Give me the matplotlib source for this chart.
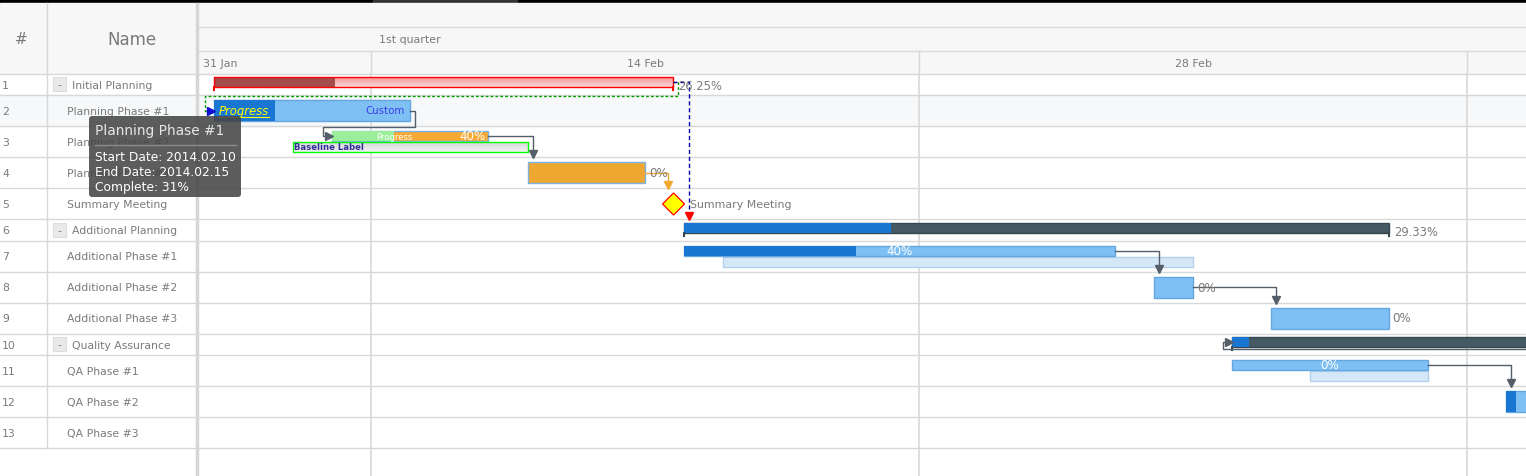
"""
Gantt chart: project planning tasks with progress, baselines and connectors.
"""
import matplotlib.pyplot as plt
import matplotlib.dates as mdates
import numpy as np
import pandas as pd
from matplotlib.patches import Rectangle, FancyBboxPatch, Polygon

# ---- data ----
task_names = ['Initial Planning', 'Planning Phase #1', 'Planning Phase #2', 'Planning Phase #3',
              'Summary Meeting', 'Additional Planning', 'Additional Phase #1', 'Additional Phase #2',
              'Additional Phase #3', 'Quality Assurance', 'QA Phase #1', 'QA Phase #2', 'QA Phase #3']
task_kinds = ['group', 'task', 'task', 'task', 'milestone', 'group', 'task', 'task', 'task',
              'group', 'task', 'task', 'task']
start_dates = ['2014-02-10', '2014-02-10', '2014-02-13', '2014-02-18', '2014-02-21 17:30',
               '2014-02-22', '2014-02-22', '2014-03-06', '2014-03-09', '2014-03-08',
               '2014-03-08', '2014-03-15', None]
end_dates = ['2014-02-21 17:00', '2014-02-15', '2014-02-17', '2014-02-21', None,
             '2014-03-12', '2014-03-05', '2014-03-07', '2014-03-12', '2014-04-05',
             '2014-03-13', '2014-03-20', None]
progress_pct = [26.25, 31, 40, 0, None, 29.33, 40, 0, 0, 1.5, 0, 5, None]
baseline_starts = [None, None, '2014-02-12', None, None, None, '2014-02-23', None, None, None,
                   '2014-03-10', None, None]
baseline_ends = [None, None, '2014-02-18', None, None, None, '2014-03-07', None, None, None,
                 '2014-03-13', None, None]
links = [(0, 1), (0, 5), (1, 2), (2, 3), (3, 4), (6, 7), (7, 8), (10, 11), (11, 9)]
link_styles = ['green', 'blue', 'plain', 'plain', 'orange', 'plain', 'plain', 'plain', 'plain']

period_starts = ['2014-01-31', '2014-02-14', '2014-02-28', '2014-03-14']
period_labels = ['31 Jan', '14 Feb', '28 Feb', '14 Mar']
quarter_label = '1st quarter'

# ---- layout ----
W, H = 1526, 477
PX = 548 / 14  # pixels per day
GRID_W = 198
HEAD_TOP, HEAD_BOT = 4, 74
TEXT = '#7a7a7a'
LINE = '#d8d8d8'
LINK = '#545f69'

fig = plt.figure(figsize=(W / 100, H / 100), dpi=100)
fig.patch.set_facecolor('white')


def px_axes(x0, y0, x1, y1, zorder=0):
    ax = fig.add_axes([x0 / W, 1 - y1 / H, (x1 - x0) / W, (y1 - y0) / H], zorder=zorder)
    ax.set_axis_off()
    return ax


def d(s):
    return mdates.date2num(pd.Timestamp(s))


n = len(task_names)
row_h = np.array([21.5 if k == 'group' else 31 for k in task_kinds])
tops = np.concatenate([[0], np.cumsum(row_h)])
body_h = H - HEAD_BOT

# ---- page: backgrounds, data grid ----
page = px_axes(0, 0, W, H)
page.set_xlim(0, W)
page.set_ylim(H, 0)
page.add_patch(Rectangle((0, 0), W, HEAD_TOP, color='black'))
page.add_patch(Rectangle((373, 0), 144, HEAD_TOP, color='#333333'))
page.add_patch(Rectangle((0, HEAD_TOP), W, HEAD_BOT - HEAD_TOP, color='#f7f7f7'))
# hovered row
page.add_patch(Rectangle((0, HEAD_BOT + tops[1]), W, row_h[1], color='#f6f8fa'))
for yb in HEAD_BOT + tops:
    page.plot([0, W], [yb + 0.5, yb + 0.5], color=LINE, lw=1)
page.plot([GRID_W, W], [27.5, 27.5], color=LINE, lw=1)
page.plot([GRID_W, W], [51.5, 51.5], color=LINE, lw=1)
page.plot([46.5, 46.5], [HEAD_TOP, HEAD_BOT + tops[-1]], color=LINE, lw=1)
page.add_patch(Rectangle((196, HEAD_TOP), 2, H - HEAD_TOP, color='#d6d6d6'))

page.text(21, 40, '#', fontsize=11, color=TEXT, ha='center', va='center')
page.text(132, 40, 'Name', fontsize=12, color=TEXT, ha='center', va='center')
for i in range(n):
    yc = HEAD_BOT + tops[i] + row_h[i] / 2 + 1
    page.text(2, yc, str(i + 1), fontsize=7.8, color=TEXT, ha='left', va='center')
    if task_kinds[i] == 'group':
        page.add_patch(Rectangle((53, yc - 7.5), 13, 14, fc='#e9e9e9', ec='#dddddd', lw=0.8))
        page.text(59.5, yc - 0.5, '-', fontsize=7.8, color=TEXT, ha='center', va='center')
        page.text(72, yc, task_names[i], fontsize=7.8, color=TEXT, ha='left', va='center')
    else:
        page.text(67, yc, task_names[i], fontsize=7.8, color=TEXT, ha='left', va='center')

# ---- timeline ----
x_ref = d(period_starts[1])
x_left = x_ref - (371 - GRID_W) / PX
x_right = x_ref + (W - 371) / PX

hdr = px_axes(GRID_W, HEAD_TOP, W, HEAD_BOT, zorder=1)
hdr.set_xlim(x_left, x_right)
hdr.set_ylim(HEAD_BOT - HEAD_TOP, 0)
hdr.text(x_ref + 8 / PX, 36, quarter_label, fontsize=7.9, color=TEXT, ha='left', va='center')
for k, (ps, lab) in enumerate(zip(period_starts, period_labels)):
    s = d(ps)
    e = d(period_starts[k + 1]) if k + 1 < len(period_starts) else s + 14
    if s > x_left:
        hdr.plot([s, s], [47.5, 70], color=LINE, lw=1)
    c = (s + e) / 2
    if c < x_left:
        hdr.text(x_left + 5 / PX, 60, lab, fontsize=7.9, color=TEXT, ha='left', va='center')
    elif c < x_right:
        hdr.text(c, 60, lab, fontsize=7.9, color=TEXT, ha='center', va='center')

tl = px_axes(GRID_W, HEAD_BOT, W, H, zorder=1)
tl.set_xlim(x_left, x_right)
tl.set_ylim(body_h, 0)
for ps in period_starts:
    if d(ps) > x_left:
        tl.plot([d(ps), d(ps)], [0, body_h], color=LINE, lw=1.2, zorder=1)

fill_over = {2: '#f6a933', 3: '#eea832'}
prog_over = {0: '#a34c4c', 2: '#9cef9a'}
edge_over = {0: '#ff0000', 2: '#7ab2e6', 3: '#7ab2e6'}


def bar_box(i):
    top = tops[i] + 0.5
    if task_kinds[i] == 'group':
        return top + 3.5, 10
    if baseline_starts[i]:
        return top + 5, 10
    return top + 5, 21


def label(x, y, s, **kw):
    # labels that fall outside the visible range are not drawn
    if x >= x_right - 10 / PX:
        return None
    return tl.text(x, y, s, va='center', zorder=5, **kw)


for i in range(n):
    if start_dates[i] is None:
        continue
    kind = task_kinds[i]
    if kind == 'milestone':
        xm, ym = d(start_dates[i]), tops[i] + row_h[i] / 2 + 1
        hw = 11 / PX
        tl.add_patch(Polygon([(xm - hw, ym), (xm, ym - 11), (xm + hw, ym), (xm, ym + 11)],
                             closed=True, fc='#ffff00', ec='#ff0000', lw=0.9, zorder=4))
        label(xm + 16 / PX, ym, task_names[i], fontsize=7.9, color=TEXT, ha='left')
        continue

    s, e = d(start_dates[i]), d(end_dates[i])
    y0, h = bar_box(i)
    w = e - s
    pw = w * progress_pct[i] / 100

    if baseline_starts[i]:
        bs, be = d(baseline_starts[i]), d(baseline_ends[i])
        if i == 2:
            for k in range(10):
                c = np.array([0.84, 0.84, 0.84]) + k * 0.012
                tl.add_patch(Rectangle((bs, y0 + h + 1 + k), be - bs, 1, color=c, lw=0, zorder=2))
            tl.add_patch(Rectangle((bs, y0 + h + 1), be - bs, 10, fc='none', ec='#00ff00',
                                   lw=1, zorder=3))
        else:
            tl.add_patch(Rectangle((bs, y0 + h + 1), be - bs, 10, fc='#d5e8f8', ec='#b4d0ea',
                                   lw=1, zorder=2))

    if kind == 'group':
        if i == 0:
            for k in range(10):
                c = np.array([0.97, 0.60, 0.60]) + k * np.array([0.0, 0.025, 0.025])
                tl.add_patch(Rectangle((s, y0 + k), w, 1, color=np.clip(c, 0, 1), lw=0, zorder=2))
            tl.add_patch(Rectangle((s, y0), pw, h, color=prog_over[0], lw=0, zorder=3))
            tl.add_patch(Rectangle((s, y0), w, h, fc='none', ec='#ff0000', lw=1, zorder=3))
            tick_c = '#ff0000'
        else:
            tl.add_patch(Rectangle((s, y0), w, h, fc='#455a64', ec='#36474f', lw=1, zorder=2))
            tl.add_patch(Rectangle((s, y0), pw, h, color='#1976d2', lw=0, zorder=3))
            tick_c = '#36474f'
        for xt in (s, e):
            tl.plot([xt, xt], [y0 + h, y0 + h + 3], color=tick_c, lw=1.5, zorder=3)
        label(e + 5 / PX, y0 + h / 2 + 4, f'{progress_pct[i]:g}%', fontsize=8.3, color=TEXT,
              ha='left')
        continue

    tl.add_patch(Rectangle((s, y0), w, h, fc=fill_over.get(i, '#7fc0f4'),
                           ec=edge_over.get(i, '#64a6e0'), lw=1, zorder=2))
    if pw > 0:
        tl.add_patch(Rectangle((s, y0), pw, h, color=prog_over.get(i, '#1976d2'), lw=0, zorder=3))

    yc = y0 + h / 2
    if i == 1:
        label(s + 4 / PX, yc, 'Progress', fontsize=8.4, color='#ffff00', style='italic', ha='left')
        tl.plot([s + 4 / PX, s + 55 / PX], [yc + 6, yc + 6], color='#ffff00', lw=0.8, zorder=5)
        label(e - 5 / PX, yc, 'Custom', fontsize=7.4, color='#3c3ce6', ha='right')
    elif i == 2:
        label(s + pw, yc, 'Progress', fontsize=6, color='white', ha='center')
        label(e - 3 / PX, yc, f'{progress_pct[i]:g}%', fontsize=8.6, color='white', ha='right')
        label(d(baseline_starts[i]) + 1 / PX, y0 + h + 6, 'Baseline Label', fontsize=6.1,
              fontweight='bold', color='#30309a', ha='left')
    elif baseline_starts[i]:
        label((s + e) / 2, yc, f'{progress_pct[i]:g}%', fontsize=8.6, color='white', ha='center')
    else:
        label(e + 4 / PX, yc, f'{progress_pct[i]:g}%', fontsize=8.6, color=TEXT, ha='left')

# ---- connectors ----
style_map = {'plain': (LINK, '-', LINK), 'green': ('#009900', (0, (2, 1.5)), '#1010d0'),
             'blue': ('#0000aa', (0, (3, 2)), '#ff0000'), 'orange': ('#f0a830', '-', '#f0a830')}


def start_of(i):
    if task_kinds[i] == 'milestone':
        return d(start_dates[i]) - 11 / PX
    return d(start_dates[i])


for (a, b), st in zip(links, link_styles):
    col, ls, acol = style_map[st]
    ya0, ha_ = bar_box(a)
    se, sy = d(end_dates[a]), ya0 + ha_ / 2
    ds = start_of(b)
    if task_kinds[b] == 'milestone':
        yb0, hb = tops[b] + 5.5, 21
    else:
        yb0, hb = bar_box(b)
    if ds > se:
        xk = ds + 5 / PX
        xs, ys = [se, xk, xk], [sy, sy, tops[b] - 3.5]
        tl.plot(xs, ys, color=col, ls=ls, lw=1, zorder=4)
        tl.plot([xk], [tops[b] - 2.5], marker='v', ms=6, color=acol, mec=acol, zorder=4)
    else:
        bend = tops[b] + 1.5 if b > a else yb0 + hb + 2
        ym = yb0 + hb / 2
        xs = [se, se + 5 / PX, se + 5 / PX, ds - 9 / PX, ds - 9 / PX, ds - 4 / PX]
        ys = [sy, sy, bend, bend, ym, ym]
        tl.plot(xs, ys, color=col, ls=ls, lw=1, zorder=4)
        tl.plot([ds - 3 / PX], [ym], marker='>', ms=6, color=acol, mec=acol, zorder=4)

# ---- tooltip ----
tip = px_axes(0, 0, W, H, zorder=5)
tip.set_xlim(0, W)
tip.set_ylim(H, 0)
tip.add_patch(FancyBboxPatch((89, 117), 152, 81, boxstyle='round,pad=0,rounding_size=3',
                             fc='#464646', ec='none', alpha=0.88))
tip.text(95, 131, task_names[1], fontsize=9.9, color='#e6e6e6', ha='left', va='center')
tip.plot([95, 236], [145.5, 145.5], color='#8c8c8c', lw=1)
fmt = lambda s: pd.Timestamp(s).strftime('%Y.%m.%d')
tip_lines = [f'Start Date: {fmt(start_dates[1])}', f'End Date: {fmt(end_dates[1])}',
             f'Complete: {progress_pct[1]:g}%']
for k, line in enumerate(tip_lines):
    tip.text(95, 157.5 + 15 * k, line, fontsize=8.8, color='white', ha='left', va='center')

fig.savefig('out.png', dpi=100)
